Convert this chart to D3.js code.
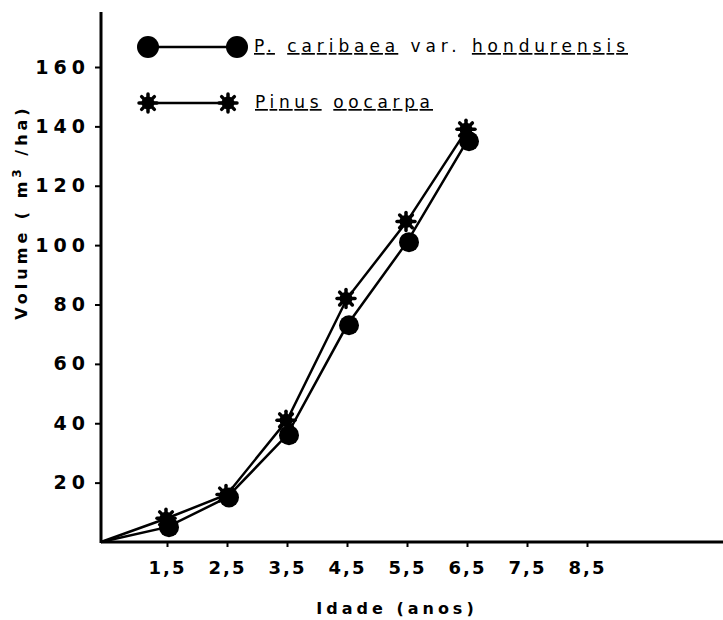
<!DOCTYPE HTML>
<html>
  <head>
    <style>
      body { margin: 0; background: #fff; }
      text { font-family: "DejaVu Sans", sans-serif; fill: #000; }
    </style>
  </head>
  <body>
    <script src="https://cdn.jsdelivr.net/npm/d3@7"></script>
    <script>

      // *** DATA ***

      // Age (years) - first point is the graph origin
      var ages = [0.4, 1.5, 2.5, 3.5, 4.5, 5.5, 6.5];
      // Volume (m3/ha) for each species
      var caribaea = [0, 5, 15, 36, 73, 101, 135];
      var oocarpa = [0, 8, 16, 41, 82, 108, 139];

      // Tick labels
      var xTicks = [1.5, 2.5, 3.5, 4.5, 5.5, 6.5, 7.5, 8.5];
      var yTicks = [20, 40, 60, 80, 100, 120, 140, 160];

      // Legend labels (word, underlined?)
      var legendCaribaea = [['P.', true], ['caribaea', true], ['var.', false], ['hondurensis', true]];
      var legendOocarpa = [['Pinus', true], ['oocarpa', true]];

      // *** SETUP ***

      var W = 723, H = 620;
      var x0 = 101, xEnd = 723, yBase = 542, yTop = 12;

      var svg = d3.select('body').append('svg')
        .attr('width', W)
        .attr('height', H);

      var x = d3.scaleLinear()
        .domain([0.4, 0.4 + (xEnd - x0) / 60])
        .range([x0, xEnd]);

      var y = d3.scaleLinear()
        .domain([0, 160])
        .range([yBase, 67]);

      // *** AXES ***

      var xAxis = d3.axisBottom(x)
        .tickValues(xTicks)
        .tickSize(5)
        .tickPadding(14)
        .tickFormat(function(d){ return String(d).replace('.', ','); });

      var gx = svg.append('g')
        .attr('transform', 'translate(0,' + yBase + ')')
        .call(xAxis);
      gx.select('.domain').remove();
      gx.append('line')
        .attr('x1', x0).attr('x2', xEnd)
        .attr('stroke', '#000').attr('stroke-width', 3);
      gx.selectAll('.tick line').attr('stroke', '#000').attr('stroke-width', 2);
      gx.selectAll('.tick text')
        .attr('fill', '#000')
        .style('font-size', '18px')
        .style('font-weight', 'bold')
        .style('letter-spacing', '2px');

      var yAxis = d3.axisLeft(y)
        .tickValues(yTicks)
        .tickSize(6)
        .tickPadding(5);

      var gy = svg.append('g')
        .attr('transform', 'translate(' + x0 + ',0)')
        .call(yAxis);
      gy.select('.domain').remove();
      gy.append('line')
        .attr('y1', yTop).attr('y2', yBase + 1)
        .attr('stroke', '#000').attr('stroke-width', 3);
      gy.selectAll('.tick line').attr('stroke', '#000').attr('stroke-width', 2);
      gy.selectAll('.tick text')
        .attr('fill', '#000')
        .style('font-size', '19px')
        .style('font-weight', 'bold')
        .style('letter-spacing', '5px');

      // Axis titles
      svg.append('text')
        .attr('x', 397)
        .attr('y', 614)
        .attr('text-anchor', 'middle')
        .style('font-size', '16px')
        .style('font-weight', 'bold')
        .style('letter-spacing', '4px')
        .text('Idade (anos)');

      var yl = svg.append('text')
        .attr('transform', 'translate(27,212) rotate(-90)')
        .attr('text-anchor', 'middle')
        .style('font-size', '16px')
        .style('font-weight', 'bold')
        .style('letter-spacing', '4px');
      yl.append('tspan').text('Volume ( m');
      yl.append('tspan').attr('dy', -6).style('font-size', '12px').text('3');
      yl.append('tspan').attr('dy', 6).text(' /ha)');

      // *** MARKERS ***

      function drawCircle(g, cx, cy, r){
        g.append('circle')
          .attr('cx', cx).attr('cy', cy).attr('r', r)
          .attr('fill', '#000');
      }

      function drawStar(g, cx, cy, r){
        var s = g.append('g').attr('transform', 'translate(' + cx + ',' + cy + ')');
        for(var ii = 0; ii < 8; ii++){
          var a = ii * Math.PI / 4;
          s.append('line')
            .attr('x1', 0).attr('y1', 0)
            .attr('x2', r * Math.cos(a)).attr('y2', r * Math.sin(a))
            .attr('stroke', '#000').attr('stroke-width', 3.5)
            .attr('stroke-linecap', 'round');
        }
        s.append('circle').attr('r', r * 0.72).attr('fill', '#000');
      }

      // *** SERIES ***

      var line = d3.line()
        .x(function(d){ return x(d[0]); })
        .y(function(d){ return y(d[1]); });

      var cData = ages.map(function(a, ii){ return [a, caribaea[ii]]; });
      var oData = ages.map(function(a, ii){ return [a, oocarpa[ii]]; });

      var gLines = svg.append('g');
      gLines.append('path').datum(oData)
        .attr('d', line)
        .attr('fill', 'none').attr('stroke', '#000').attr('stroke-width', 2.5);
      gLines.append('path').datum(cData)
        .attr('d', line)
        .attr('fill', 'none').attr('stroke', '#000').attr('stroke-width', 2.5);

      var gPts = svg.append('g');
      cData.slice(1).forEach(function(d){ drawCircle(gPts, x(d[0]) + 2, y(d[1]), 10); });
      oData.slice(1).forEach(function(d){ drawStar(gPts, x(d[0]) - 1, y(d[1]), 9); });

      // *** LEGEND ***

      var gLeg = svg.append('g');

      gLeg.append('line')
        .attr('x1', 148).attr('x2', 237).attr('y1', 47).attr('y2', 47)
        .attr('stroke', '#000').attr('stroke-width', 2.5);
      drawCircle(gLeg, 148, 47, 11);
      drawCircle(gLeg, 237, 47, 11);

      gLeg.append('line')
        .attr('x1', 148).attr('x2', 228).attr('y1', 103).attr('y2', 103)
        .attr('stroke', '#000').attr('stroke-width', 2.5);
      drawStar(gLeg, 148, 103, 9);
      drawStar(gLeg, 228, 103, 9);

      function legendText(words, tx, ty, len){
        var t = gLeg.append('text')
          .attr('x', tx).attr('y', ty)
          .attr('textLength', len)
          .attr('lengthAdjust', 'spacing')
          .style('font-size', '17px')
          .style('letter-spacing', '3px');
        words.forEach(function(w, ii){
          t.append('tspan')
            .style('text-decoration', w[1] ? 'underline' : 'none')
            .text(w[0]);
          if(ii < words.length - 1){
            t.append('tspan').text('  ');
          }
        });
      }

      legendText(legendCaribaea, 254, 52, 374);
      legendText(legendOocarpa, 255, 108, 178);

    </script>
  </body>
</html>
